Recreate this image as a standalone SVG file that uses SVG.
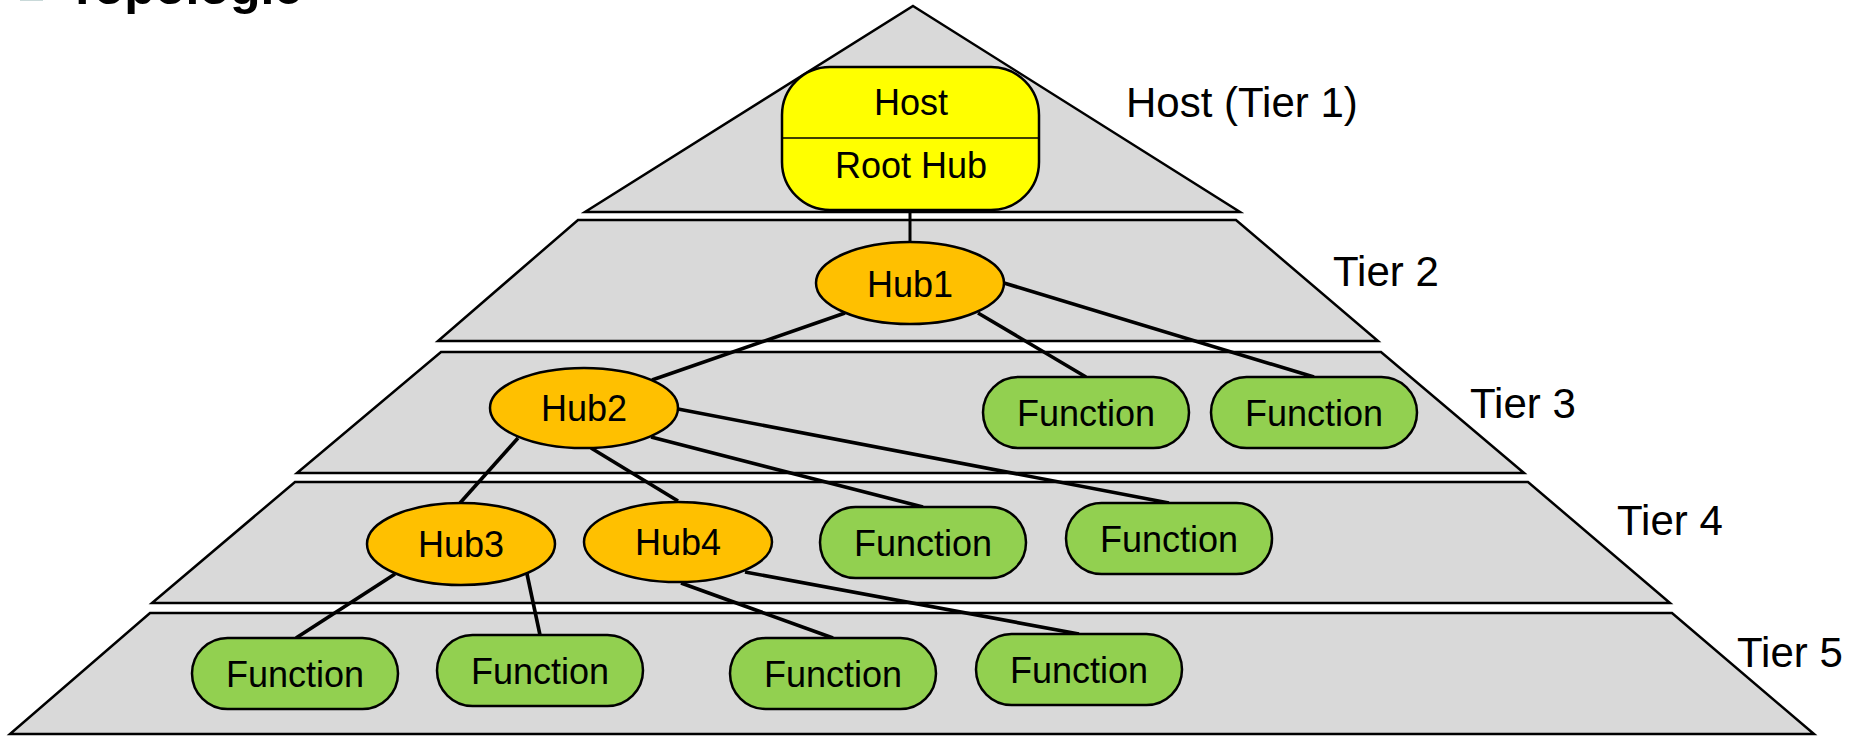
<svg xmlns="http://www.w3.org/2000/svg" width="1858" height="737" viewBox="0 0 1858 737">
  <style>
    .band { fill: #d9d9d9; stroke: #000; stroke-width: 2.5; stroke-linejoin: miter; }
    .node { stroke: #000; stroke-width: 2.5; }
    .host { fill: #ffff00; }
    .hub { fill: #ffc000; }
    .func { fill: #92d050; }
    .lbl { font-family: "Liberation Sans", Arial, sans-serif; font-size: 36px; fill: #000; text-anchor: middle; }
    .tier { font-family: "Liberation Sans", Arial, sans-serif; font-size: 42px; fill: #000; }
    .title { font-family: "Liberation Sans", Arial, sans-serif; font-size: 50px; font-weight: bold; fill: #000; }
    .wire { stroke: #000; stroke-width: 3.6; fill: none; stroke-linecap: butt; }
  </style>

  <rect width="1858" height="737" fill="#fff"/>

  <!-- page heading, clipped by the top edge -->
  <g id="heading">
    <rect x="20" y="-20" width="23" height="21" fill="#c9d9d9"/>
    <text class="title" x="67" y="4">Topologie</text>
  </g>

  <!-- pyramid tiers -->
  <g id="tiers">
    <polygon id="tier1-band" class="band" points="913,6 1240,212 585,212"/>
    <polygon id="tier2-band" class="band" points="578,220 1236,220 1378,341 438,341"/>
    <polygon id="tier3-band" class="band" points="441,352 1381,352 1524,473 297,473"/>
    <polygon id="tier4-band" class="band" points="295,482 1528,482 1670,603 152,603"/>
    <polygon id="tier5-band" class="band" points="150,613 1672,613 1814,734 10,734"/>
  </g>

  <!-- tier captions -->
  <g id="tier-labels">
    <text class="tier" x="1126" y="117">Host (Tier 1)</text>
    <text class="tier" x="1333" y="286">Tier 2</text>
    <text class="tier" x="1470" y="418">Tier 3</text>
    <text class="tier" x="1617" y="535">Tier 4</text>
    <text class="tier" x="1737" y="667">Tier 5</text>
  </g>

  <!-- bus connections -->
  <g id="connectors">
    <line class="wire" x1="910" y1="210" x2="910" y2="242" style="stroke-width:3"/>
    <line class="wire" x1="845" y1="313" x2="652" y2="380"/>
    <line class="wire" x1="978" y1="313" x2="1086" y2="377"/>
    <line class="wire" x1="1004" y1="283" x2="1314" y2="377"/>
    <line class="wire" x1="518" y1="438" x2="460" y2="503"/>
    <line class="wire" x1="591" y1="448" x2="678" y2="501"/>
    <line class="wire" x1="651" y1="437" x2="923" y2="507"/>
    <line class="wire" x1="678" y1="409" x2="1169" y2="503"/>
    <line class="wire" x1="395" y1="574" x2="296" y2="638"/>
    <line class="wire" x1="527" y1="574" x2="540" y2="635"/>
    <line class="wire" x1="681" y1="583" x2="833" y2="638"/>
    <line class="wire" x1="745" y1="572" x2="1079" y2="634"/>
  </g>

  <!-- host with root hub -->
  <g id="host">
    <rect class="node host" x="782" y="67" width="257" height="143" rx="48" ry="48"/>
    <line x1="782" y1="138" x2="1039" y2="138" stroke="#000" stroke-width="1.6"/>
    <text class="lbl" x="911" y="115">Host</text>
    <text class="lbl" x="911" y="178">Root Hub</text>
  </g>

  <!-- hubs -->
  <g id="hub1">
    <ellipse class="node hub" cx="910" cy="283" rx="94" ry="41"/>
    <text class="lbl" x="910" y="297">Hub1</text>
  </g>
  <g id="hub2">
    <ellipse class="node hub" cx="584" cy="408" rx="94" ry="40"/>
    <text class="lbl" x="584" y="421">Hub2</text>
  </g>
  <g id="hub3">
    <ellipse class="node hub" cx="461" cy="544" rx="94" ry="41"/>
    <text class="lbl" x="461" y="557">Hub3</text>
  </g>
  <g id="hub4">
    <ellipse class="node hub" cx="678" cy="542" rx="94" ry="40"/>
    <text class="lbl" x="678" y="555">Hub4</text>
  </g>

  <!-- functions, tier 3 -->
  <g id="func-t3-a">
    <rect class="node func" x="983" y="377" width="206" height="71" rx="35.5"/>
    <text class="lbl" x="1086" y="426">Function</text>
  </g>
  <g id="func-t3-b">
    <rect class="node func" x="1211" y="377" width="206" height="71" rx="35.5"/>
    <text class="lbl" x="1314" y="426">Function</text>
  </g>

  <!-- functions, tier 4 -->
  <g id="func-t4-a">
    <rect class="node func" x="820" y="507" width="206" height="71" rx="35.5"/>
    <text class="lbl" x="923" y="556">Function</text>
  </g>
  <g id="func-t4-b">
    <rect class="node func" x="1066" y="503" width="206" height="71" rx="35.5"/>
    <text class="lbl" x="1169" y="552">Function</text>
  </g>

  <!-- functions, tier 5 -->
  <g id="func-t5-a">
    <rect class="node func" x="192" y="638" width="206" height="71" rx="35.5"/>
    <text class="lbl" x="295" y="687">Function</text>
  </g>
  <g id="func-t5-b">
    <rect class="node func" x="437" y="635" width="206" height="71" rx="35.5"/>
    <text class="lbl" x="540" y="684">Function</text>
  </g>
  <g id="func-t5-c">
    <rect class="node func" x="730" y="638" width="206" height="71" rx="35.5"/>
    <text class="lbl" x="833" y="687">Function</text>
  </g>
  <g id="func-t5-d">
    <rect class="node func" x="976" y="634" width="206" height="71" rx="35.5"/>
    <text class="lbl" x="1079" y="683">Function</text>
  </g>
</svg>
